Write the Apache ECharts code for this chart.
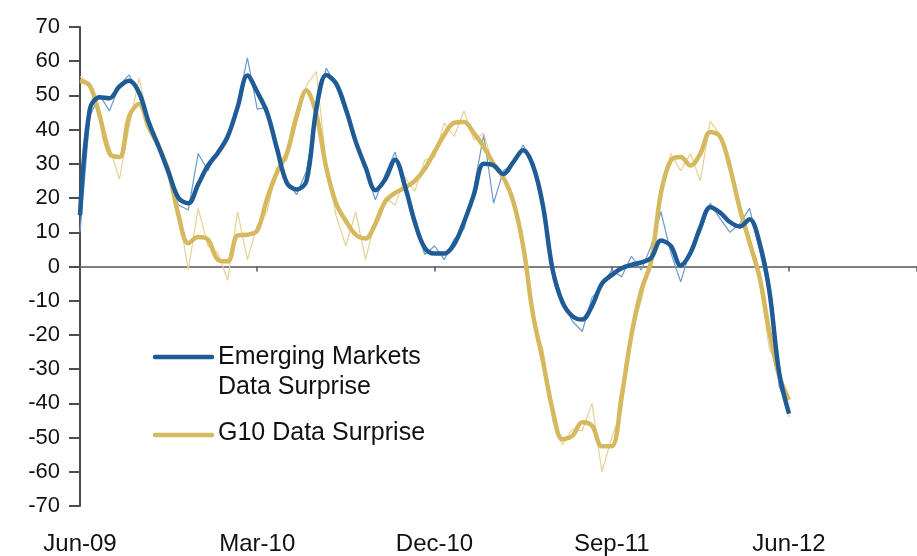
<!DOCTYPE html>
<html>
<head>
<meta charset="utf-8">
<script src="https://cdn.jsdelivr.net/npm/echarts@6/dist/echarts.min.js"></script>
<style>
  html, body { margin: 0; padding: 0; background: #fff; }
  #main { width: 917px; height: 556px; }
</style>
</head>
<body>
<div id="main"></div>
<script>
// x is counted in half-months from Jun-09
const tickLabels = { 0: 'Jun-09', 18: 'Mar-10', 36: 'Dec-10', 54: 'Sep-11', 72: 'Jun-12' }

// smoothed lines
const emSmooth = [
  15, 46, 49.5, 49.2, 52.6, 54.3, 50.8, 42, 35, 27.5,
  20, 18.5, 24, 29.5, 33.2, 38, 46.5, 55.8, 51, 45,
  34.5, 24.5, 22.5, 25, 46, 56, 53.5, 46, 36.5, 29,
  22.3, 25.5, 31.2, 23.5, 13, 5.5, 3.8, 3.8, 6.5, 13,
  21, 30, 29.5, 27, 30.5, 34, 29.5, 18, -1, -10.5,
  -14.5, -15.5, -11.5, -5, -2.5, -0.5, 0.5, 1.2, 2.5, 7.6,
  6, 0.3, 4, 11.5, 17.3, 15.8, 13, 11.7, 13.8, 7,
  -7, -31, -43
]
const g10Smooth = [
  54.3, 52.8, 44, 33, 32, 44, 47.5, 40.5, 35, 27.5,
  15, 6.8, 8.6, 7.8, 2, 1.5, 9.1, 9.3, 10.5, 19.8,
  27.5, 33, 44, 51.5, 44.5, 29, 18.5, 13.3, 9.3, 8.2,
  12.5, 19, 21.5, 23, 25, 28.5, 33.5, 38.5, 42, 42.2,
  39, 35, 30, 26, 19, 6, -14, -27.5, -42, -50.5,
  -49.5, -45.5, -46.5, -52.5, -52.5, -38, -20, -7, 1.5, 21.5,
  31, 32, 29.5, 33, 39.3, 38, 29, 17, 7, -3,
  -19, -32, -39
]

// raw (noisy) lines
const emRaw = [
  10, 44, 50, 45.5, 53, 56, 50, 41, 36, 26,
  18, 16.5, 33, 28, 34, 37.5, 47, 61, 46, 46.5,
  33, 25, 21, 28, 45, 58, 53, 44.5, 37, 28,
  19.5, 27, 33.5, 22, 14, 3.5, 6, 2, 8, 11,
  23, 38.5, 18.5, 28, 30, 35.5, 30, 16.5, 0, -10,
  -16, -19, -9, -6, -1, -3, 3, -1, 6, 16,
  4, -4.5, 5, 10, 18.5, 14, 10, 12.5, 17, 5,
  -8, -35, -42
]
const g10Raw = [
  55.5, 53.5, 45, 35, 25.5, 41, 55, 42, 34, 29.5,
  16, -1, 17, 6, 4, -4, 16, 2, 12, 16,
  29, 31, 42, 53, 57, 30, 15, 6, 16, 2,
  14, 20, 18, 26, 22, 31, 32, 42, 38, 45.5,
  37, 39, 29, 27, 17.5, 8, -16, -24, -45, -52,
  -47.5, -48, -40, -60, -50, -42, -19, -10, 3, 20,
  33, 28, 33, 25, 42.5, 38.5, 31, 15, 9, -4,
  -24, -30, -44
]

const pairs = arr => arr.map((v, i) => [i, v])

const BLUE = '#1f5b96'
const BLUE_THIN = '#6a9acb'
const GOLD = '#d6b85e'
const GOLD_THIN = '#e6d092'
const FONT = 'Liberation Sans, Arial, sans-serif'

const option = {
  animation: false,
  backgroundColor: '#fff',
  grid: { left: 80, right: 0, top: 27, bottom: 49 },
  xAxis: [
    {
      type: 'value', min: 0, max: 85, interval: 18,
      axisLine: { onZero: true, lineStyle: { color: '#808080', width: 2 } },
      axisTick: { show: true, length: 5, lineStyle: { color: '#555', width: 1.5 } },
      axisLabel: { show: false },
      splitLine: { show: false }
    },
    {
      type: 'value', min: 0, max: 85, interval: 18, position: 'bottom',
      axisLine: { show: false, onZero: false },
      axisTick: { show: false },
      splitLine: { show: false },
      axisLabel: {
        margin: 26, fontSize: 24, color: '#111', fontFamily: FONT,
        showMaxLabel: false,
        formatter: v => tickLabels[v] || ''
      }
    }
  ],
  yAxis: {
    type: 'value', min: -70, max: 70, interval: 10,
    axisLine: { show: true, lineStyle: { color: '#4d4d4d', width: 2 } },
    axisTick: { show: true, length: 11, lineStyle: { color: '#4d4d4d', width: 2 } },
    splitLine: { show: false },
    axisLabel: { margin: 20, fontSize: 22, color: '#111', fontFamily: FONT }
  },
  graphic: [
    { type: 'line', shape: { x1: 155, y1: 357, x2: 212, y2: 357 },
      style: { stroke: BLUE, lineWidth: 4.5, lineCap: 'round' } },
    { type: 'text', left: 218, top: 342,
      style: { text: 'Emerging Markets\nData Surprise', lineHeight: 30,
               fill: '#111', font: '25px ' + FONT } },
    { type: 'line', shape: { x1: 155, y1: 435, x2: 212, y2: 435 },
      style: { stroke: GOLD, lineWidth: 4.5, lineCap: 'round' } },
    { type: 'text', left: 218, top: 421,
      style: { text: 'G10 Data Surprise', fill: '#111', font: '25px ' + FONT } }
  ],
  series: [
    { name: 'EM raw', type: 'line', data: pairs(emRaw), symbol: 'none',
      lineStyle: { color: BLUE_THIN, width: 1.2 }, z: 2 },
    { name: 'G10 raw', type: 'line', data: pairs(g10Raw), symbol: 'none',
      lineStyle: { color: GOLD_THIN, width: 1.2 }, z: 2 },
    { name: 'G10 Data Surprise', type: 'line', data: pairs(g10Smooth), symbol: 'none', smooth: 0.35,
      lineStyle: { color: GOLD, width: 4.5 }, z: 3 },
    { name: 'Emerging Markets Data Surprise', type: 'line', data: pairs(emSmooth), symbol: 'none', smooth: 0.35,
      lineStyle: { color: BLUE, width: 4.5 }, z: 4 }
  ]
}

const myChart = echarts.init(document.getElementById('main'))
myChart.setOption(option)
</script>
</body>
</html>
